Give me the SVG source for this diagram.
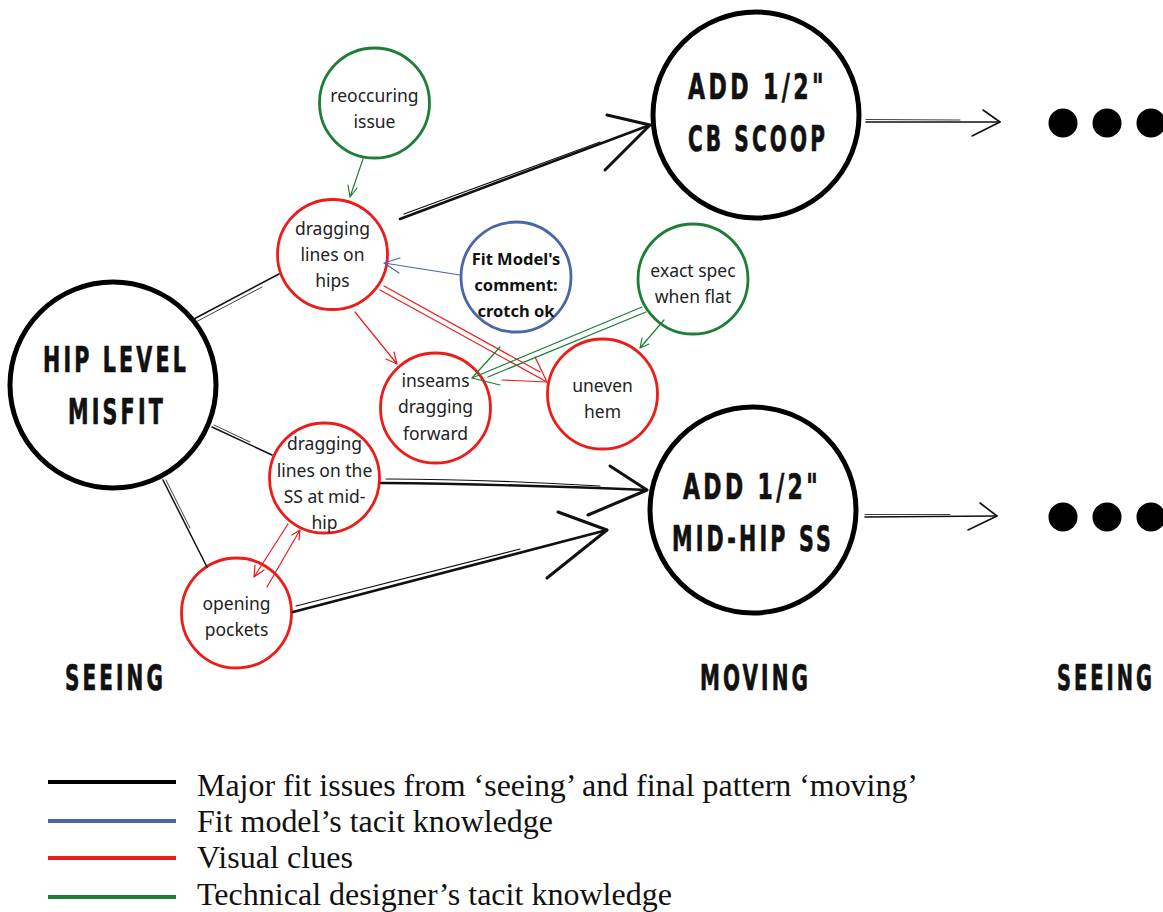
<svg xmlns="http://www.w3.org/2000/svg" width="1163" height="912" viewBox="0 0 1163 912">
  <style>
    .big { fill: #fff; stroke: #000; stroke-width: 5; }
    .sm { fill: #fff; stroke-width: 2.8; }
    .red { stroke: #ee1b1b; }
    .grn { stroke: #1e7d36; }
    .blu { stroke: #4a66a6; }
    .head { font-family: "DejaVu Sans Condensed", "DejaVu Sans", sans-serif; font-weight: bold; font-size: 36px; letter-spacing: 5px; fill: #111; stroke: #111; stroke-width: 0.7; }
    .lbl { font-family: "Noto Sans", "Open Sans", sans-serif; font-size: 17.5px; fill: #222; text-anchor: middle; }
    .bold { font-weight: bold; font-size: 16.5px; fill: #111; }
    .ink { fill: none; stroke: #111; stroke-linecap: round; stroke-linejoin: round; }
    .thin { fill: none; stroke-linecap: round; stroke-linejoin: round; stroke-width: 1.2; }
    .leg { font-family: "Liberation Serif", "Times New Roman", serif; font-size: 32px; fill: #111; }
  </style>

  <!-- main issue -->
  <g id="hip-level-misfit">
    <circle class="big" cx="113" cy="385" r="103"/>
    <text class="head" x="43" y="372" textLength="146" lengthAdjust="spacingAndGlyphs">HIP LEVEL</text>
    <text class="head" x="68" y="424" textLength="98" lengthAdjust="spacingAndGlyphs">MISFIT</text>
  </g>

  <g id="cb-scoop">
    <circle class="big" cx="756" cy="115" r="103"/>
    <text class="head" x="688" y="99" textLength="139" lengthAdjust="spacingAndGlyphs">ADD 1/2"</text>
    <text class="head" x="688" y="151" textLength="140" lengthAdjust="spacingAndGlyphs">CB SCOOP</text>
  </g>

  <g id="mid-hip-ss">
    <circle class="big" cx="753" cy="510" r="103"/>
    <text class="head" x="683" y="499" textLength="138" lengthAdjust="spacingAndGlyphs">ADD 1/2"</text>
    <text class="head" x="672" y="551" textLength="162" lengthAdjust="spacingAndGlyphs">MID-HIP SS</text>
  </g>

  <g id="reoccuring-issue">
    <circle class="sm grn" cx="374.5" cy="103" r="55"/>
    <text class="lbl" x="374.5" y="102">reoccuring</text>
    <text class="lbl" x="374.5" y="128">issue</text>
  </g>

  <g id="dragging-lines-hips">
    <circle class="sm red" cx="332.5" cy="254.5" r="55"/>
    <text class="lbl" x="332.5" y="235">dragging</text>
    <text class="lbl" x="332.5" y="261">lines on</text>
    <text class="lbl" x="332.5" y="287">hips</text>
  </g>

  <g id="fit-model-comment">
    <circle class="sm blu" cx="516" cy="277" r="55"/>
    <text class="lbl bold" x="516" y="265">Fit Model's</text>
    <text class="lbl bold" x="516" y="291">comment:</text>
    <text class="lbl bold" x="516" y="317">crotch ok</text>
  </g>

  <g id="exact-spec">
    <circle class="sm grn" cx="693" cy="279" r="55"/>
    <text class="lbl" x="693" y="277">exact spec</text>
    <text class="lbl" x="693" y="303">when flat</text>
  </g>

  <g id="inseams-dragging">
    <circle class="sm red" cx="435.5" cy="408" r="55"/>
    <text class="lbl" x="435.5" y="387">inseams</text>
    <text class="lbl" x="435.5" y="413">dragging</text>
    <text class="lbl" x="435.5" y="440">forward</text>
  </g>

  <g id="uneven-hem">
    <circle class="sm red" cx="602.5" cy="394" r="55"/>
    <text class="lbl" x="602.5" y="392">uneven</text>
    <text class="lbl" x="602.5" y="418">hem</text>
  </g>

  <g id="dragging-lines-ss">
    <circle class="sm red" cx="324.5" cy="478" r="55"/>
    <text class="lbl" x="324.5" y="450">dragging</text>
    <text class="lbl" x="324.5" y="477">lines on the</text>
    <text class="lbl" x="324.5" y="503">SS at mid-</text>
    <text class="lbl" x="324.5" y="529">hip</text>
  </g>

  <g id="opening-pockets">
    <circle class="sm red" cx="236.5" cy="613" r="55"/>
    <text class="lbl" x="236.5" y="610">opening</text>
    <text class="lbl" x="236.5" y="636">pockets</text>
  </g>

  <!-- continuation dots -->
  <g id="more-top" fill="#000">
    <circle cx="1063" cy="123" r="14.5"/>
    <circle cx="1107" cy="123" r="14.5"/>
    <circle cx="1151" cy="123" r="14.5"/>
  </g>
  <g id="more-bottom" fill="#000">
    <circle cx="1063" cy="517" r="14.5"/>
    <circle cx="1107" cy="517" r="14.5"/>
    <circle cx="1151" cy="517" r="14.5"/>
  </g>

  <!-- connectors, drawn over the nodes -->
  <g id="connectors">
    <!-- HIP LEVEL MISFIT to its visual clues -->
    <path class="ink" stroke-width="1.5" d="M192,320 L279,274"/>
    <path class="ink" stroke-width="0.8" d="M194,323 L262,287"/>
    <path class="ink" stroke-width="1.5" d="M212,427 L272,455"/>
    <path class="ink" stroke-width="0.8" d="M214,425 L250,442"/>
    <path class="ink" stroke-width="1.5" d="M163,480 L207,567"/>
    <path class="ink" stroke-width="0.8" d="M166,480 L190,528"/>

    <!-- visual clues to pattern moves -->
    <path class="ink" stroke-width="2.6" d="M400,219 L650,125"/>
    <path class="ink" stroke-width="1.2" d="M404,214 L600,142"/>
    <path class="ink" stroke-width="3" d="M607,115 L650,125 L605,170"/>

    <path class="ink" stroke-width="2.4" d="M381,483 Q500,484 647,490"/>
    <path class="ink" stroke-width="1.1" d="M386,479 Q480,479 600,486"/>
    <path class="ink" stroke-width="3" d="M610,466 L647,490 L588,515"/>

    <path class="ink" stroke-width="2.6" d="M293,612 L607,530"/>
    <path class="ink" stroke-width="1.2" d="M296,606 L520,549"/>
    <path class="ink" stroke-width="3" d="M558,512 L607,530 L547,578"/>

    <!-- pattern moves onward to the next round -->
    <path class="ink" stroke-width="1.5" d="M866,122 L1000,122"/>
    <path class="ink" stroke-width="0.8" d="M866,119.5 L960,120"/>
    <path class="ink" stroke-width="1.6" d="M983,110 L1000,122 L972,136"/>
    <path class="ink" stroke-width="1.5" d="M865,517 L997,516"/>
    <path class="ink" stroke-width="0.8" d="M865,514.5 L950,514.5"/>
    <path class="ink" stroke-width="1.6" d="M980,503 L997,516 L968,530"/>

    <!-- visual clue links -->
    <path class="thin red" stroke-width="2.8" d="M380,290 L547,382"/>
    <path class="thin red" stroke-width="1.6" d="M384,286 L540,372"/>
    <path class="thin red" stroke-width="3" d="M535,357 L547,382 L502,380"/>
    <path class="thin red" d="M355,312 L397,364 M386,359 L397,364 L394,352"/>
    <path class="thin red" d="M288,524 L254,577 M264,570 L254,577 L255,565"/>
    <path class="thin red" d="M267,587 L300,530 M292,535 L300,530 L299,540"/>

    <!-- technical designer links -->
    <path class="thin grn" d="M363,159 L350,197 M357,188 L350,197 L348,185"/>
    <path class="thin grn" stroke-width="3.4" d="M642,307 L472,378"/>
    <path class="thin grn" stroke-width="1.8" d="M646,312 L488,377"/>
    <path class="thin grn" stroke-width="4" d="M500,347 L472,378 L500,385"/>
    <path class="thin grn" d="M664,320 L640,348 M649,344 L640,348 L642,338"/>

    <!-- fit model link -->
    <path class="thin blu" d="M460,275 L384,263 M399,273 L384,263 L400,258"/>
  </g>

  <!-- stage labels -->
  <g id="stages">
    <text class="head" x="65" y="690" textLength="101" lengthAdjust="spacingAndGlyphs">SEEING</text>
    <text class="head" x="700" y="690" textLength="111" lengthAdjust="spacingAndGlyphs">MOVING</text>
    <text class="head" transform="translate(1057,690) scale(0.6,1)" x="0" y="0">SEEING</text>
  </g>

  <!-- legend -->
  <g id="legend">
    <line x1="48" y1="782" x2="176" y2="782" stroke="#000" stroke-width="4"/>
    <line x1="48" y1="821" x2="176" y2="821" stroke="#4a66a6" stroke-width="4"/>
    <line x1="48" y1="858" x2="176" y2="858" stroke="#ee1b1b" stroke-width="4"/>
    <line x1="48" y1="897" x2="176" y2="897" stroke="#1e7d36" stroke-width="4"/>
    <text class="leg" x="197" y="796" textLength="721" lengthAdjust="spacingAndGlyphs">Major fit issues from ‘seeing’ and final pattern ‘moving’</text>
    <text class="leg" x="197" y="832" textLength="356" lengthAdjust="spacingAndGlyphs">Fit model’s tacit knowledge</text>
    <text class="leg" x="197" y="868" textLength="156" lengthAdjust="spacingAndGlyphs">Visual clues</text>
    <text class="leg" x="197" y="905" textLength="475" lengthAdjust="spacingAndGlyphs">Technical designer’s tacit knowledge</text>
  </g>
</svg>
